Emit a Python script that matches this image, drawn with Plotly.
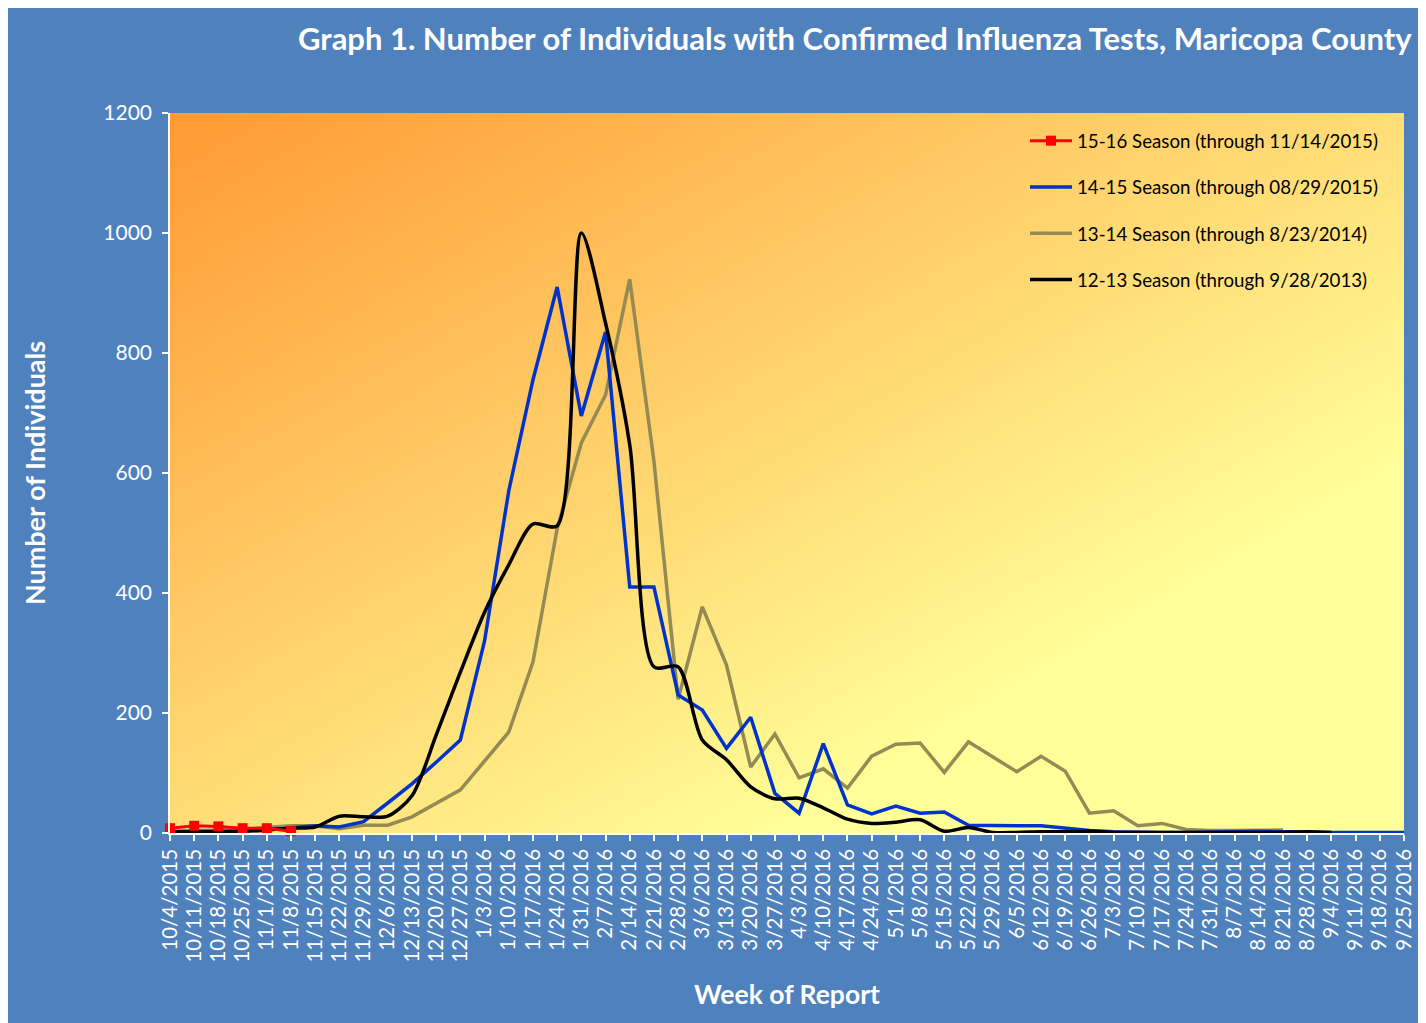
import base64
import plotly.graph_objects as go

weeks = ["10/4/2015", "10/11/2015", "10/18/2015", "10/25/2015", "11/1/2015", "11/8/2015",
         "11/15/2015", "11/22/2015", "11/29/2015", "12/6/2015", "12/13/2015", "12/20/2015",
         "12/27/2015", "1/3/2016", "1/10/2016", "1/17/2016", "1/24/2016", "1/31/2016",
         "2/7/2016", "2/14/2016", "2/21/2016", "2/28/2016", "3/6/2016", "3/13/2016",
         "3/20/2016", "3/27/2016", "4/3/2016", "4/10/2016", "4/17/2016", "4/24/2016",
         "5/1/2016", "5/8/2016", "5/15/2016", "5/22/2016", "5/29/2016", "6/5/2016",
         "6/12/2016", "6/19/2016", "6/26/2016", "7/3/2016", "7/10/2016", "7/17/2016",
         "7/24/2016", "7/31/2016", "8/7/2016", "8/14/2016", "8/21/2016", "8/28/2016",
         "9/4/2016", "9/11/2016", "9/18/2016", "9/25/2016"]

season_15_16 = [8, 12, 11, 8, 8, 3]

season_14_15 = [2, 2, 3, 3, 5, 8, 12, 10, 19, 50, 82, 118, 155, 320, 570, 755, 910, 695,
                835, 410, 410, 230, 205, 141, 193, 66, 33, 149, 47, 32, 45, 33, 35, 13,
                12, 12, 12, 8, 4, 2, 1, 1, 1, 2, 3, 3, 2, 1, 1, 1, 1, 1]

season_13_14 = [3, 4, 5, 6, 9, 12, 12, 7, 13, 13, 27, 50, 72, 120, 168, 285, 507, 650,
                730, 923, 620, 223, 377, 280, 110, 165, 92, 107, 75, 128, 148, 150, 101,
                152, 127, 102, 128, 103, 33, 37, 12, 16, 6, 4, 4, 5, 5]

season_12_13 = [2, 2, 2, 3, 5, 8, 10, 28, 27, 28, 62, 163, 268, 368, 447, 515, 512, 1000,
                850, 647, 277, 277, 155, 122, 77, 57, 58, 42, 23, 16, 18, 22, 3, 9, 1, 1,
                2, 2, 3, 1, 1, 1, 1, 1, 1, 1, 1, 2, 1]

y_ticks = [0, 200, 400, 600, 800, 1000, 1200]

names = ["15-16 Season (through 11/14/2015)", "14-15 Season (through 08/29/2015)",
         "13-14 Season (through 8/23/2014)", "12-13 Season (through 9/28/2013)"]

BLUE_BG = "#4F81BD"
FONT = "Lato"

fig = go.Figure()

fig.add_trace(go.Scatter(x=weeks[:len(season_13_14)], y=season_13_14, mode="lines",
                         name=names[2], legendrank=3, legendgroup="c",
                         line=dict(color="#948A54", width=3.5)))
fig.add_trace(go.Scatter(x=weeks[:len(season_14_15)], y=season_14_15, mode="lines",
                         name=names[1], legendrank=2, legendgroup="b",
                         line=dict(color="#0033CC", width=3.5)))
fig.add_trace(go.Scatter(x=weeks[:len(season_12_13)], y=season_12_13, mode="lines",
                         name=names[3], legendrank=4, legendgroup="d",
                         line=dict(color="#000000", width=3.5, shape="spline", smoothing=0.8)))
fig.add_trace(go.Scatter(x=weeks[:len(season_15_16)], y=season_15_16, mode="lines+markers",
                         name=names[0], legendrank=1, legendgroup="a", cliponaxis=False,
                         line=dict(color="#FF0000", width=3),
                         marker=dict(symbol="square", size=10, color="#FF0000")))

svg = ('<svg xmlns="http://www.w3.org/2000/svg" width="100" height="100" viewBox="0 0 100 100" '
       'preserveAspectRatio="none"><defs><linearGradient id="g" x1="0" y1="0" x2="1" y2="1">'
       '<stop offset="0" stop-color="#FF9933"/><stop offset="0.75" stop-color="#FFFF99"/>'
       '</linearGradient></defs><rect width="100" height="100" fill="url(#g)"/></svg>')
src = "data:image/svg+xml;base64," + base64.b64encode(svg.encode()).decode()

# page is offset by the 8px body margin
OFF = 8
W, H = 1426 - OFF, 1023 - OFF
PL, PR, PT, PB = 170, 1404, 113, 833   # plot area in page pixels
ML, MT = PL - OFF, PT - OFF
MR, MB = 1426 - PR, 1023 - PB
PW, PH = PR - PL, PB - PT


def px(x):
    return (x - PL) / PW


def py(y):
    return (PB - y) / PH


fig.update_layout(
    width=W, height=H,
    margin=dict(l=ML, r=MR, t=MT, b=MB),
    paper_bgcolor=BLUE_BG,
    plot_bgcolor="rgba(0,0,0,0)",
    font=dict(family=FONT, color="white"),
    images=[dict(source=src, xref="paper", yref="paper", x=0, y=1, sizex=1, sizey=1,
                 xanchor="left", yanchor="top", sizing="stretch", layer="below")],
    shapes=[
        dict(type="rect", xref="paper", yref="paper", x0=px(1419), x1=px(1460), y0=py(1100), y1=py(-20),
             fillcolor="white", line_width=0, layer="above"),
    ],
    annotations=[
        dict(text="<b>Graph 1. Number of Individuals with Confirmed Influenza Tests, Maricopa County</b>",
             xref="paper", yref="paper", x=px(1414), y=py(38), xanchor="right", yanchor="middle",
             showarrow=False, font=dict(size=31, color="white", family=FONT)),
    ],
    legend=dict(x=px(1025), y=py(122), xanchor="left", yanchor="top",
                bgcolor="rgba(0,0,0,0)", font=dict(size=18.7, color="black", family=FONT),
                traceorder="grouped", tracegroupgap=19, itemwidth=42),
    xaxis=dict(type="category", range=[0, len(weeks) - 1], showgrid=False, zeroline=False,
               tickmode="array", tickvals=weeks, ticktext=weeks,
               showline=True, linecolor="white", linewidth=1.5,
               ticks="outside", ticklen=6, tickcolor="white", tickwidth=1.5,
               tickangle=-90, tickfont=dict(size=20.5, color="white", family=FONT),
               title=dict(text="<b>Week of Report</b>", font=dict(size=26.5, color="white", family=FONT),
                          standoff=24)),
    yaxis=dict(range=[0, 1200], tickvals=y_ticks, showgrid=False, zeroline=False,
               showline=True, linecolor="white", linewidth=1.5,
               ticks="outside", ticklen=6, tickcolor="white", tickwidth=1.5,
               tickfont=dict(size=21, color="white", family=FONT), ticklabelstandoff=6,
               title=dict(text="<b>Number of Individuals</b>", font=dict(size=27, color="white", family=FONT),
                          standoff=50)),
)

fig.write_html("out.html")
